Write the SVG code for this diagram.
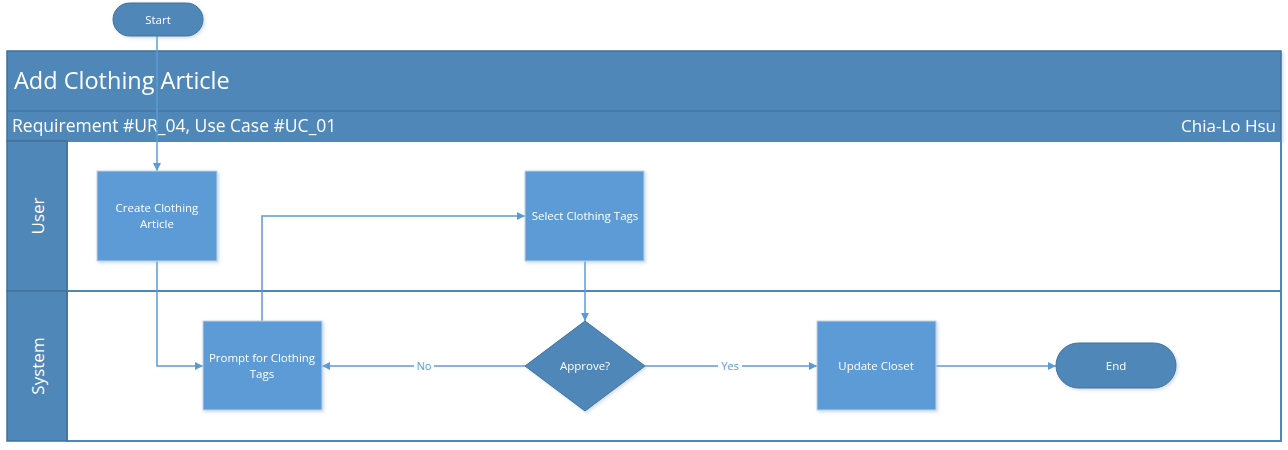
<svg xmlns="http://www.w3.org/2000/svg" width="1288" height="450" viewBox="0 0 1288 450">
<style>
text{font-family:"Open Sans","Noto Sans","Liberation Sans",sans-serif;fill:#fff}
.pool{fill:#4F87B9;stroke:#41719C;stroke-width:1.5}
.lane{fill:#fff;stroke:#4F87B9;stroke-width:2}
.proc{fill:#5B9BD5;stroke:#BFD3E8;stroke-width:1}
.dark{fill:#4F87B9;stroke:#41719C;stroke-width:1}
.conn{fill:none;stroke:#5B9BD5;stroke-width:1.5}
.nt{font-size:11.5px;text-anchor:middle}
.lbl{font-size:11px;text-anchor:middle;fill:#5B9BD5}
</style>
<defs>
<marker id="arr" viewBox="0 0 10 10" refX="10" refY="5" markerWidth="8" markerHeight="8" markerUnits="userSpaceOnUse" orient="auto"><path d="M0,0 L10,5 L0,10 z" fill="#5B9BD5"/></marker>
<filter id="sh" x="-10%" y="-10%" width="130%" height="130%"><feDropShadow dx="1.5" dy="1.5" stdDeviation="1.5" flood-color="#9BB7D4" flood-opacity="0.5"/></filter>
</defs>
<g id="pool" filter="url(#sh)">
<rect class="pool" x="7" y="51" width="1274" height="90"/>
<line x1="7" y1="111" x2="1281" y2="111" stroke="#41719C" stroke-width="1"/>
<text x="14" y="89" style="font-size:23.5px">Add Clothing Article</text>
<text x="12" y="132" style="font-size:17.5px">Requirement #UR_04, Use Case #UC_01</text>
<text x="1276" y="132" style="font-size:17px" text-anchor="end">Chia-Lo Hsu</text>
</g>
<g id="lane-user">
<rect class="lane" x="67" y="141" width="1214" height="150"/>
<rect class="pool" x="7" y="141" width="60" height="150"/>
<text transform="translate(44,216) rotate(-90)" style="font-size:17px" text-anchor="middle">User</text>
</g>
<g id="lane-system">
<rect class="lane" x="67" y="291" width="1214" height="150"/>
<rect class="pool" x="7" y="291" width="60" height="150"/>
<text transform="translate(44,366) rotate(-90)" style="font-size:17px" text-anchor="middle">System</text>
</g>
<g id="connectors">
<path class="conn" d="M157,36 V171" marker-end="url(#arr)"/>
<path class="conn" d="M157,261 V366 H203" marker-end="url(#arr)"/>
<path class="conn" d="M262,321 V216 H525" marker-end="url(#arr)"/>
<path class="conn" d="M585,261 V321" marker-end="url(#arr)"/>
<path class="conn" d="M525,366 H322" marker-end="url(#arr)"/>
<path class="conn" d="M645,366 H817" marker-end="url(#arr)"/>
<path class="conn" d="M936,366 H1056" marker-end="url(#arr)"/>
<rect x="414" y="359" width="20" height="14" fill="#fff"/>
<text class="lbl" x="424" y="370">No</text>
<rect x="718" y="359" width="24" height="14" fill="#fff"/>
<text class="lbl" x="730" y="370">Yes</text>
</g>
<g id="start" filter="url(#sh)">
<rect class="dark" x="113" y="3" width="90" height="33" rx="16.5"/>
<text class="nt" x="158" y="24">Start</text>
</g>
<g id="create" filter="url(#sh)">
<rect class="proc" x="97" y="171" width="120" height="90"/>
<text class="nt" x="157" y="212">Create Clothing</text>
<text class="nt" x="157" y="228">Article</text>
</g>
<g id="prompt" filter="url(#sh)">
<rect class="proc" x="203" y="321" width="119" height="89"/>
<text class="nt" x="262" y="362">Prompt for Clothing</text>
<text class="nt" x="262" y="378">Tags</text>
</g>
<g id="select" filter="url(#sh)">
<rect class="proc" x="525" y="171" width="119" height="90"/>
<text class="nt" x="585" y="220">Select Clothing Tags</text>
</g>
<g id="approve" filter="url(#sh)">
<polygon class="dark" points="585,321 645,366 585,411 525,366"/>
<text class="nt" x="585" y="370">Approve?</text>
</g>
<g id="update" filter="url(#sh)">
<rect class="proc" x="817" y="321" width="119" height="89"/>
<text class="nt" x="876" y="370">Update Closet</text>
</g>
<g id="end" filter="url(#sh)">
<rect class="dark" x="1056" y="343" width="120" height="45" rx="22.5"/>
<text class="nt" x="1116" y="370">End</text>
</g>
</svg>
